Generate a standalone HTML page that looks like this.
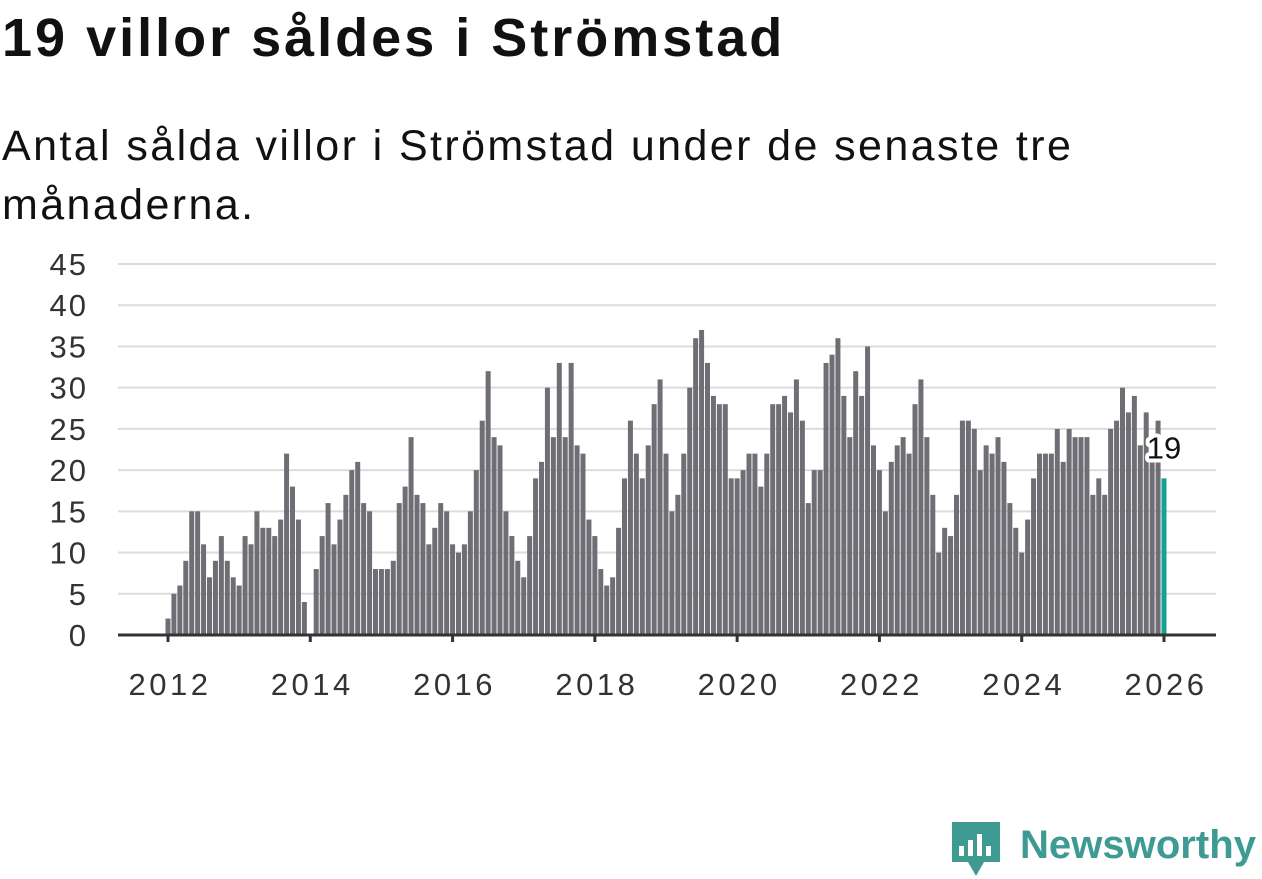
<!DOCTYPE html>
<html><head><meta charset="utf-8"><style>
body{margin:0;background:#fff;width:1262px;height:879px;overflow:hidden;font-family:"Liberation Sans",sans-serif;}
#title{position:absolute;left:2px;top:7px;font-size:54px;font-weight:bold;color:#111;margin:0;letter-spacing:3px}
#sub{position:absolute;left:2px;top:117px;font-size:43px;letter-spacing:2.4px;color:#111;line-height:59px;width:1100px}
svg{position:absolute;left:0;top:0}
</style></head><body>
<h1 id="title">19 villor såldes i Strömstad</h1>
<div id="sub">Antal sålda villor i Strömstad under de senaste tre månaderna.</div>
<svg id="chart" width="1262" height="879"></svg>
<script>
const values=[2,5,6,9,15,15,11,7,9,12,9,7,
6,12,11,15,13,13,12,14,22,18,14,4,
0,8,12,16,11,14,17,20,21,16,15,8,
8,8,9,16,18,24,17,16,11,13,16,15,
11,10,11,15,20,26,32,24,23,15,12,9,
7,12,19,21,30,24,33,24,33,23,22,14,
12,8,6,7,13,19,26,22,19,23,28,31,
22,15,17,22,30,36,37,33,29,28,28,19,
19,20,22,22,18,22,28,28,29,27,31,26,
16,20,20,33,34,36,29,24,32,29,35,23,
20,15,21,23,24,22,28,31,24,17,10,13,
12,17,26,26,25,20,23,22,24,21,16,13,
10,14,19,22,22,22,25,21,25,24,24,24,
17,19,17,25,26,30,27,29,23,27,22,26,
19];
const yTicks=[0,5,10,15,20,25,30,35,40,45];
const xTicks=[2012,2014,2016,2018,2020,2022,2024,2026];
const startYear=2012;
const NS="http://www.w3.org/2000/svg";
const svg=document.getElementById('chart');
const y=v=>635-v*(635-264)/45;
const x=i=>168+i*(1164-168)/168;
const xYear=yr=>x((yr-startYear)*12);
function mk(t,a){const e=document.createElementNS(NS,t);for(const k in a)e.setAttribute(k,a[k]);svg.appendChild(e);return e;}
yTicks.forEach(v=>{
  const g=mk('line',{x1:118,x2:1216,y1:y(v),y2:y(v),stroke:'#dcdcdc','stroke-width':2});
  
  
  const t=mk('text',{x:88,y:y(v)+11,'text-anchor':'end','font-size':31,'letter-spacing':2,fill:'#333','font-family':'Liberation Sans, sans-serif'});
  t.textContent=v;
  
  
});
values.forEach((v,i)=>{
  const last=i===values.length-1;
  const r=mk('rect',{x:x(i)-2.5,y:y(v),width:5,height:635-y(v),fill:last?'#17a096':'#6f6e74'});
  
  
});
const ax=mk('line',{x1:118,x2:1216,y1:635,y2:635,stroke:'#333','stroke-width':3});


xTicks.forEach(yr=>{
  const tk=mk('line',{x1:xYear(yr),x2:xYear(yr),y1:635,y2:642,stroke:'#333','stroke-width':3});
  
  
  const t=mk('text',{x:xYear(yr)+2,y:695,'text-anchor':'middle','font-size':31,'letter-spacing':3.5,fill:'#333','font-family':'Liberation Sans, sans-serif'});
  t.textContent=yr;
  
  
});
const lv=values[values.length-1];
const lbl=mk('text',{x:x(values.length-1),y:y(lv)-20,'text-anchor':'middle','font-size':31,fill:'#111',stroke:'#fff','stroke-width':8,'paint-order':'stroke','stroke-linejoin':'round','font-family':'Liberation Sans, sans-serif'});
lbl.textContent=lv;


</script>
<svg width="1262" height="879">
<path d="M952 822 h48 v40 h-16 l-8 14 l-8 -14 h-16 z" fill="#3d9b93"/>
<rect x="959" y="846" width="5" height="10" fill="#fff"/><rect x="968" y="840" width="5" height="16" fill="#fff"/><rect x="977" y="834" width="5" height="22" fill="#fff"/><rect x="986" y="846" width="5" height="10" fill="#fff"/>
<text x="1020" y="858" font-size="40" font-weight="bold" fill="#3d9b93" textLength="236" lengthAdjust="spacingAndGlyphs" font-family="Liberation Sans, sans-serif">Newsworthy</text>
</svg>
</body></html>
